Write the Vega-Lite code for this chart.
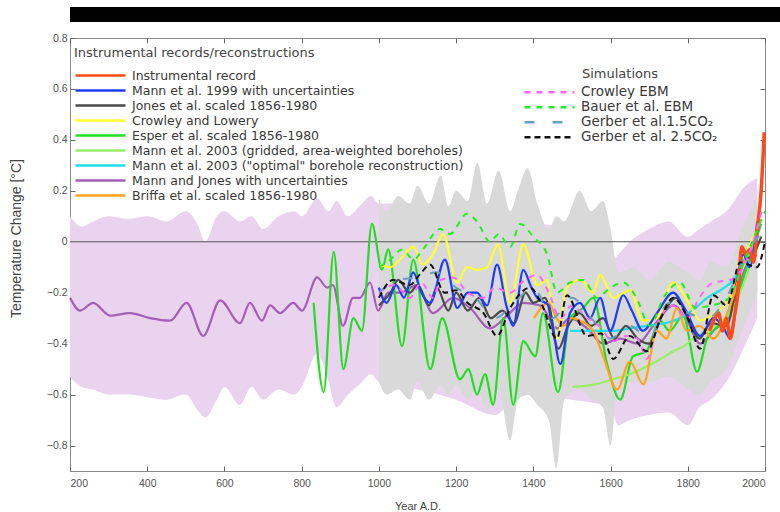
{
  "$schema": "https://vega.github.io/schema/vega-lite/v6.json",
  "autosize": {"type": "pad"},
  "padding": {"left": 8, "top": 7, "right": 0, "bottom": 0},
  "background": "white",
  "columns": 1,
  "align": "none",
  "spacing": 10,
  "config": {
    "font": "Liberation Sans",
    "view": {"stroke": "#8a8a8a", "strokeWidth": 1},
    "axis": {
      "labelFont": "Liberation Sans",
      "labelFontSize": 10.5,
      "labelColor": "#555555",
      "titleFont": "Liberation Sans",
      "titleFontSize": 11,
      "titleFontWeight": "normal",
      "titleColor": "#444444",
      "domain": false,
      "grid": false,
      "tickColor": "#666666",
      "tickSize": -5
    },
    "legend": {
      "labelFont": "DejaVu Sans",
      "labelFontSize": 12.5,
      "labelColor": "#3a3a3a",
      "labelLimit": 0,
      "titleFont": "DejaVu Sans",
      "titleFontSize": 13,
      "titleFontWeight": "normal",
      "titleColor": "#444444",
      "titleLimit": 0,
      "symbolType": "stroke",
      "symbolStrokeWidth": 2.5,
      "symbolSize": 2500,
      "clipHeight": 15,
      "rowPadding": 0,
      "labelOffset": 5
    }
  },
  "datasets": {
    "mannjonesband": [
      {"year": 200, "lo": -0.53, "hi": 0.1},
      {"year": 230, "lo": -0.57, "hi": 0.06},
      {"year": 260, "lo": -0.58, "hi": 0.08},
      {"year": 300, "lo": -0.6, "hi": 0.1},
      {"year": 350, "lo": -0.6, "hi": 0.09},
      {"year": 400, "lo": -0.61, "hi": 0.1},
      {"year": 450, "lo": -0.62, "hi": 0.08},
      {"year": 500, "lo": -0.6, "hi": 0.12},
      {"year": 530, "lo": -0.66, "hi": 0.07},
      {"year": 550, "lo": -0.69, "hi": 0.0},
      {"year": 580, "lo": -0.62, "hi": 0.1},
      {"year": 600, "lo": -0.57, "hi": 0.12},
      {"year": 640, "lo": -0.64, "hi": 0.08},
      {"year": 670, "lo": -0.57, "hi": 0.1},
      {"year": 700, "lo": -0.62, "hi": 0.05},
      {"year": 740, "lo": -0.58, "hi": 0.1},
      {"year": 780, "lo": -0.6, "hi": 0.12},
      {"year": 800, "lo": -0.57, "hi": 0.1},
      {"year": 840, "lo": -0.44, "hi": 0.17},
      {"year": 870, "lo": -0.55, "hi": 0.12},
      {"year": 890, "lo": -0.65, "hi": 0.16},
      {"year": 920, "lo": -0.6, "hi": 0.1},
      {"year": 950, "lo": -0.56, "hi": 0.14},
      {"year": 980, "lo": -0.52, "hi": 0.18},
      {"year": 1000, "lo": -0.55, "hi": 0.15},
      {"year": 1100, "lo": -0.58, "hi": 0.15},
      {"year": 1200, "lo": -0.62, "hi": 0.12},
      {"year": 1300, "lo": -0.68, "hi": 0.1},
      {"year": 1350, "lo": -0.62, "hi": 0.12},
      {"year": 1400, "lo": -0.6, "hi": 0.08},
      {"year": 1500, "lo": -0.62, "hi": 0.05},
      {"year": 1600, "lo": -0.65, "hi": -0.08},
      {"year": 1620, "lo": -0.72, "hi": -0.05},
      {"year": 1650, "lo": -0.7, "hi": 0.0},
      {"year": 1700, "lo": -0.68, "hi": 0.05},
      {"year": 1750, "lo": -0.67, "hi": 0.08},
      {"year": 1800, "lo": -0.72, "hi": 0.02},
      {"year": 1830, "lo": -0.65, "hi": 0.05},
      {"year": 1860, "lo": -0.62, "hi": 0.08},
      {"year": 1900, "lo": -0.55, "hi": 0.12},
      {"year": 1950, "lo": -0.4, "hi": 0.22},
      {"year": 1980, "lo": -0.3, "hi": 0.25}
    ],
    "mann99band": [
      {"year": 1000, "lo": -0.55, "hi": 0.17},
      {"year": 1020, "lo": -0.6, "hi": 0.12},
      {"year": 1050, "lo": -0.58, "hi": 0.18},
      {"year": 1080, "lo": -0.62, "hi": 0.15},
      {"year": 1100, "lo": -0.55, "hi": 0.22},
      {"year": 1130, "lo": -0.62, "hi": 0.15},
      {"year": 1160, "lo": -0.56, "hi": 0.26},
      {"year": 1180, "lo": -0.6, "hi": 0.14},
      {"year": 1200, "lo": -0.56, "hi": 0.2},
      {"year": 1230, "lo": -0.62, "hi": 0.16},
      {"year": 1255, "lo": -0.58, "hi": 0.31},
      {"year": 1280, "lo": -0.66, "hi": 0.15},
      {"year": 1310, "lo": -0.58, "hi": 0.28},
      {"year": 1340, "lo": -0.78, "hi": 0.12},
      {"year": 1360, "lo": -0.62, "hi": 0.2},
      {"year": 1385, "lo": -0.6, "hi": 0.29},
      {"year": 1410, "lo": -0.64, "hi": 0.15},
      {"year": 1440, "lo": -0.7, "hi": 0.05},
      {"year": 1460, "lo": -0.89, "hi": 0.1},
      {"year": 1480, "lo": -0.62, "hi": 0.08},
      {"year": 1520, "lo": -0.58, "hi": 0.2},
      {"year": 1550, "lo": -0.62, "hi": 0.12},
      {"year": 1580, "lo": -0.65, "hi": 0.16},
      {"year": 1600, "lo": -0.8, "hi": 0.05},
      {"year": 1620, "lo": -0.55, "hi": -0.12},
      {"year": 1660, "lo": -0.55, "hi": -0.1},
      {"year": 1700, "lo": -0.55, "hi": -0.15},
      {"year": 1750, "lo": -0.53, "hi": -0.08},
      {"year": 1800, "lo": -0.58, "hi": -0.12},
      {"year": 1830, "lo": -0.6, "hi": -0.15},
      {"year": 1860, "lo": -0.55, "hi": -0.08},
      {"year": 1900, "lo": -0.5, "hi": -0.1},
      {"year": 1940, "lo": -0.35, "hi": 0.05},
      {"year": 1980, "lo": -0.2, "hi": 0.18}
    ],
    "recon": [
      {"series": "Mann and Jones with uncertainties", "year": 200, "temp": -0.22},
      {"series": "Mann and Jones with uncertainties", "year": 226, "temp": -0.27},
      {"series": "Mann and Jones with uncertainties", "year": 260, "temp": -0.24},
      {"series": "Mann and Jones with uncertainties", "year": 304, "temp": -0.29},
      {"series": "Mann and Jones with uncertainties", "year": 355, "temp": -0.28},
      {"series": "Mann and Jones with uncertainties", "year": 407, "temp": -0.3},
      {"series": "Mann and Jones with uncertainties", "year": 459, "temp": -0.31},
      {"series": "Mann and Jones with uncertainties", "year": 502, "temp": -0.24},
      {"series": "Mann and Jones with uncertainties", "year": 545, "temp": -0.37},
      {"series": "Mann and Jones with uncertainties", "year": 589, "temp": -0.23},
      {"series": "Mann and Jones with uncertainties", "year": 640, "temp": -0.32},
      {"series": "Mann and Jones with uncertainties", "year": 666, "temp": -0.24},
      {"series": "Mann and Jones with uncertainties", "year": 697, "temp": -0.31},
      {"series": "Mann and Jones with uncertainties", "year": 718, "temp": -0.25},
      {"series": "Mann and Jones with uncertainties", "year": 744, "temp": -0.28},
      {"series": "Mann and Jones with uncertainties", "year": 778, "temp": -0.24},
      {"series": "Mann and Jones with uncertainties", "year": 801, "temp": -0.27},
      {"series": "Mann and Jones with uncertainties", "year": 840, "temp": -0.14},
      {"series": "Mann and Jones with uncertainties", "year": 866, "temp": -0.18},
      {"series": "Mann and Jones with uncertainties", "year": 881, "temp": -0.17},
      {"series": "Mann and Jones with uncertainties", "year": 907, "temp": -0.33},
      {"series": "Mann and Jones with uncertainties", "year": 933, "temp": -0.22},
      {"series": "Mann and Jones with uncertainties", "year": 951, "temp": -0.22},
      {"series": "Mann and Jones with uncertainties", "year": 977, "temp": -0.16},
      {"series": "Mann and Jones with uncertainties", "year": 998, "temp": -0.27},
      {"series": "Mann and Jones with uncertainties", "year": 1024, "temp": -0.2},
      {"series": "Mann and Jones with uncertainties", "year": 1055, "temp": -0.2},
      {"series": "Mann and Jones with uncertainties", "year": 1099, "temp": -0.17},
      {"series": "Mann and Jones with uncertainties", "year": 1140, "temp": -0.28},
      {"series": "Mann and Jones with uncertainties", "year": 1192, "temp": -0.22},
      {"series": "Mann and Jones with uncertainties", "year": 1236, "temp": -0.26},
      {"series": "Mann and Jones with uncertainties", "year": 1288, "temp": -0.34},
      {"series": "Mann and Jones with uncertainties", "year": 1332, "temp": -0.29},
      {"series": "Mann and Jones with uncertainties", "year": 1374, "temp": -0.24},
      {"series": "Mann and Jones with uncertainties", "year": 1418, "temp": -0.25},
      {"series": "Mann and Jones with uncertainties", "year": 1462, "temp": -0.34},
      {"series": "Mann and Jones with uncertainties", "year": 1495, "temp": -0.3},
      {"series": "Mann and Jones with uncertainties", "year": 1539, "temp": -0.34},
      {"series": "Mann and Jones with uncertainties", "year": 1581, "temp": -0.4},
      {"series": "Mann and Jones with uncertainties", "year": 1625, "temp": -0.38},
      {"series": "Mann and Jones with uncertainties", "year": 1669, "temp": -0.4},
      {"series": "Mann and Jones with uncertainties", "year": 1711, "temp": -0.33},
      {"series": "Mann and Jones with uncertainties", "year": 1763, "temp": -0.25},
      {"series": "Mann and Jones with uncertainties", "year": 1798, "temp": -0.31},
      {"series": "Mann and Jones with uncertainties", "year": 1832, "temp": -0.4},
      {"series": "Mann and Jones with uncertainties", "year": 1866, "temp": -0.35},
      {"series": "Mann and Jones with uncertainties", "year": 1910, "temp": -0.28},
      {"series": "Mann and Jones with uncertainties", "year": 1953, "temp": -0.09},
      {"series": "Mann and Jones with uncertainties", "year": 1979, "temp": -0.05},

      {"series": "Esper et al. scaled 1856-1980", "year": 831, "temp": -0.24},
      {"series": "Esper et al. scaled 1856-1980", "year": 857, "temp": -0.59},
      {"series": "Esper et al. scaled 1856-1980", "year": 883, "temp": -0.04},
      {"series": "Esper et al. scaled 1856-1980", "year": 908, "temp": -0.5},
      {"series": "Esper et al. scaled 1856-1980", "year": 934, "temp": -0.3},
      {"series": "Esper et al. scaled 1856-1980", "year": 956, "temp": -0.35},
      {"series": "Esper et al. scaled 1856-1980", "year": 982, "temp": 0.07},
      {"series": "Esper et al. scaled 1856-1980", "year": 1008, "temp": -0.11},
      {"series": "Esper et al. scaled 1856-1980", "year": 1024, "temp": -0.03},
      {"series": "Esper et al. scaled 1856-1980", "year": 1060, "temp": -0.41},
      {"series": "Esper et al. scaled 1856-1980", "year": 1089, "temp": -0.07},
      {"series": "Esper et al. scaled 1856-1980", "year": 1133, "temp": -0.5},
      {"series": "Esper et al. scaled 1856-1980", "year": 1164, "temp": -0.3},
      {"series": "Esper et al. scaled 1856-1980", "year": 1210, "temp": -0.54},
      {"series": "Esper et al. scaled 1856-1980", "year": 1232, "temp": -0.5},
      {"series": "Esper et al. scaled 1856-1980", "year": 1254, "temp": -0.6},
      {"series": "Esper et al. scaled 1856-1980", "year": 1275, "temp": -0.52},
      {"series": "Esper et al. scaled 1856-1980", "year": 1296, "temp": -0.64},
      {"series": "Esper et al. scaled 1856-1980", "year": 1322, "temp": -0.3},
      {"series": "Esper et al. scaled 1856-1980", "year": 1348, "temp": -0.64},
      {"series": "Esper et al. scaled 1856-1980", "year": 1374, "temp": -0.39},
      {"series": "Esper et al. scaled 1856-1980", "year": 1405, "temp": -0.45},
      {"series": "Esper et al. scaled 1856-1980", "year": 1425, "temp": -0.28},
      {"series": "Esper et al. scaled 1856-1980", "year": 1464, "temp": -0.59},
      {"series": "Esper et al. scaled 1856-1980", "year": 1495, "temp": -0.3},
      {"series": "Esper et al. scaled 1856-1980", "year": 1529, "temp": -0.26},
      {"series": "Esper et al. scaled 1856-1980", "year": 1555, "temp": -0.22},
      {"series": "Esper et al. scaled 1856-1980", "year": 1591, "temp": -0.48},
      {"series": "Esper et al. scaled 1856-1980", "year": 1625, "temp": -0.62},
      {"series": "Esper et al. scaled 1856-1980", "year": 1658, "temp": -0.45},
      {"series": "Esper et al. scaled 1856-1980", "year": 1693, "temp": -0.43},
      {"series": "Esper et al. scaled 1856-1980", "year": 1728, "temp": -0.31},
      {"series": "Esper et al. scaled 1856-1980", "year": 1753, "temp": -0.35},
      {"series": "Esper et al. scaled 1856-1980", "year": 1788, "temp": -0.29},
      {"series": "Esper et al. scaled 1856-1980", "year": 1824, "temp": -0.51},
      {"series": "Esper et al. scaled 1856-1980", "year": 1850, "temp": -0.38},
      {"series": "Esper et al. scaled 1856-1980", "year": 1880, "temp": -0.33},
      {"series": "Esper et al. scaled 1856-1980", "year": 1918, "temp": -0.26},
      {"series": "Esper et al. scaled 1856-1980", "year": 1953, "temp": -0.1},
      {"series": "Esper et al. scaled 1856-1980", "year": 1990, "temp": 0.07},

      {"series": "Mann et al. 2003 (gridded, area-weighted boreholes)", "year": 1501, "temp": -0.57},
      {"series": "Mann et al. 2003 (gridded, area-weighted boreholes)", "year": 1560, "temp": -0.56},
      {"series": "Mann et al. 2003 (gridded, area-weighted boreholes)", "year": 1607, "temp": -0.54},
      {"series": "Mann et al. 2003 (gridded, area-weighted boreholes)", "year": 1650, "temp": -0.52},
      {"series": "Mann et al. 2003 (gridded, area-weighted boreholes)", "year": 1694, "temp": -0.49},
      {"series": "Mann et al. 2003 (gridded, area-weighted boreholes)", "year": 1730, "temp": -0.46},
      {"series": "Mann et al. 2003 (gridded, area-weighted boreholes)", "year": 1762, "temp": -0.43},
      {"series": "Mann et al. 2003 (gridded, area-weighted boreholes)", "year": 1790, "temp": -0.41},
      {"series": "Mann et al. 2003 (gridded, area-weighted boreholes)", "year": 1814, "temp": -0.38},
      {"series": "Mann et al. 2003 (gridded, area-weighted boreholes)", "year": 1850, "temp": -0.35},
      {"series": "Mann et al. 2003 (gridded, area-weighted boreholes)", "year": 1880, "temp": -0.32},
      {"series": "Mann et al. 2003 (gridded, area-weighted boreholes)", "year": 1910, "temp": -0.28},
      {"series": "Mann et al. 2003 (gridded, area-weighted boreholes)", "year": 1960, "temp": -0.1},

      {"series": "Mann et al. 2003 (\"optimal\" borehole reconstruction)", "year": 1495, "temp": -0.35},
      {"series": "Mann et al. 2003 (\"optimal\" borehole reconstruction)", "year": 1550, "temp": -0.35},
      {"series": "Mann et al. 2003 (\"optimal\" borehole reconstruction)", "year": 1607, "temp": -0.35},
      {"series": "Mann et al. 2003 (\"optimal\" borehole reconstruction)", "year": 1650, "temp": -0.34},
      {"series": "Mann et al. 2003 (\"optimal\" borehole reconstruction)", "year": 1694, "temp": -0.33},
      {"series": "Mann et al. 2003 (\"optimal\" borehole reconstruction)", "year": 1740, "temp": -0.32},
      {"series": "Mann et al. 2003 (\"optimal\" borehole reconstruction)", "year": 1780, "temp": -0.3},
      {"series": "Mann et al. 2003 (\"optimal\" borehole reconstruction)", "year": 1820, "temp": -0.26},
      {"series": "Mann et al. 2003 (\"optimal\" borehole reconstruction)", "year": 1850, "temp": -0.22},
      {"series": "Mann et al. 2003 (\"optimal\" borehole reconstruction)", "year": 1885, "temp": -0.19},
      {"series": "Mann et al. 2003 (\"optimal\" borehole reconstruction)", "year": 1918, "temp": -0.15},
      {"series": "Mann et al. 2003 (\"optimal\" borehole reconstruction)", "year": 1953, "temp": -0.06},
      {"series": "Mann et al. 2003 (\"optimal\" borehole reconstruction)", "year": 1980, "temp": 0.02},

      {"series": "Crowley and Lowery", "year": 1003, "temp": -0.09},
      {"series": "Crowley and Lowery", "year": 1030, "temp": -0.1},
      {"series": "Crowley and Lowery", "year": 1060, "temp": -0.06},
      {"series": "Crowley and Lowery", "year": 1089, "temp": -0.02},
      {"series": "Crowley and Lowery", "year": 1114, "temp": -0.09},
      {"series": "Crowley and Lowery", "year": 1140, "temp": -0.05},
      {"series": "Crowley and Lowery", "year": 1166, "temp": 0.03},
      {"series": "Crowley and Lowery", "year": 1203, "temp": -0.16},
      {"series": "Crowley and Lowery", "year": 1228, "temp": -0.1},
      {"series": "Crowley and Lowery", "year": 1255, "temp": -0.11},
      {"series": "Crowley and Lowery", "year": 1280, "temp": -0.1},
      {"series": "Crowley and Lowery", "year": 1308, "temp": -0.01},
      {"series": "Crowley and Lowery", "year": 1340, "temp": -0.24},
      {"series": "Crowley and Lowery", "year": 1374, "temp": -0.01},
      {"series": "Crowley and Lowery", "year": 1410, "temp": -0.17},
      {"series": "Crowley and Lowery", "year": 1435, "temp": -0.15},
      {"series": "Crowley and Lowery", "year": 1461, "temp": -0.38},
      {"series": "Crowley and Lowery", "year": 1487, "temp": -0.18},
      {"series": "Crowley and Lowery", "year": 1521, "temp": -0.15},
      {"series": "Crowley and Lowery", "year": 1555, "temp": -0.2},
      {"series": "Crowley and Lowery", "year": 1573, "temp": -0.13},
      {"series": "Crowley and Lowery", "year": 1607, "temp": -0.22},
      {"series": "Crowley and Lowery", "year": 1650, "temp": -0.19},
      {"series": "Crowley and Lowery", "year": 1684, "temp": -0.31},
      {"series": "Crowley and Lowery", "year": 1720, "temp": -0.3},
      {"series": "Crowley and Lowery", "year": 1762, "temp": -0.16},
      {"series": "Crowley and Lowery", "year": 1810, "temp": -0.26},
      {"series": "Crowley and Lowery", "year": 1832, "temp": -0.31},
      {"series": "Crowley and Lowery", "year": 1870, "temp": -0.28},
      {"series": "Crowley and Lowery", "year": 1910, "temp": -0.22},
      {"series": "Crowley and Lowery", "year": 1950, "temp": -0.05},
      {"series": "Crowley and Lowery", "year": 1980, "temp": 0.05},

      {"series": "Jones et al. scaled 1856-1980", "year": 1000, "temp": -0.25},
      {"series": "Jones et al. scaled 1856-1980", "year": 1030, "temp": -0.2},
      {"series": "Jones et al. scaled 1856-1980", "year": 1050, "temp": -0.15},
      {"series": "Jones et al. scaled 1856-1980", "year": 1080, "temp": -0.2},
      {"series": "Jones et al. scaled 1856-1980", "year": 1100, "temp": -0.17},
      {"series": "Jones et al. scaled 1856-1980", "year": 1130, "temp": -0.25},
      {"series": "Jones et al. scaled 1856-1980", "year": 1150, "temp": -0.18},
      {"series": "Jones et al. scaled 1856-1980", "year": 1180, "temp": -0.27},
      {"series": "Jones et al. scaled 1856-1980", "year": 1200, "temp": -0.2},
      {"series": "Jones et al. scaled 1856-1980", "year": 1230, "temp": -0.27},
      {"series": "Jones et al. scaled 1856-1980", "year": 1260, "temp": -0.22},
      {"series": "Jones et al. scaled 1856-1980", "year": 1290, "temp": -0.3},
      {"series": "Jones et al. scaled 1856-1980", "year": 1320, "temp": -0.27},
      {"series": "Jones et al. scaled 1856-1980", "year": 1350, "temp": -0.32},
      {"series": "Jones et al. scaled 1856-1980", "year": 1380, "temp": -0.2},
      {"series": "Jones et al. scaled 1856-1980", "year": 1400, "temp": -0.24},
      {"series": "Jones et al. scaled 1856-1980", "year": 1430, "temp": -0.22},
      {"series": "Jones et al. scaled 1856-1980", "year": 1465, "temp": -0.42},
      {"series": "Jones et al. scaled 1856-1980", "year": 1490, "temp": -0.33},
      {"series": "Jones et al. scaled 1856-1980", "year": 1520, "temp": -0.28},
      {"series": "Jones et al. scaled 1856-1980", "year": 1550, "temp": -0.33},
      {"series": "Jones et al. scaled 1856-1980", "year": 1580, "temp": -0.3},
      {"series": "Jones et al. scaled 1856-1980", "year": 1610, "temp": -0.38},
      {"series": "Jones et al. scaled 1856-1980", "year": 1640, "temp": -0.33},
      {"series": "Jones et al. scaled 1856-1980", "year": 1670, "temp": -0.38},
      {"series": "Jones et al. scaled 1856-1980", "year": 1700, "temp": -0.4},
      {"series": "Jones et al. scaled 1856-1980", "year": 1730, "temp": -0.3},
      {"series": "Jones et al. scaled 1856-1980", "year": 1770, "temp": -0.22},
      {"series": "Jones et al. scaled 1856-1980", "year": 1800, "temp": -0.3},
      {"series": "Jones et al. scaled 1856-1980", "year": 1830, "temp": -0.38},
      {"series": "Jones et al. scaled 1856-1980", "year": 1860, "temp": -0.32},
      {"series": "Jones et al. scaled 1856-1980", "year": 1900, "temp": -0.33},
      {"series": "Jones et al. scaled 1856-1980", "year": 1940, "temp": -0.08},
      {"series": "Jones et al. scaled 1856-1980", "year": 1970, "temp": -0.05},
      {"series": "Jones et al. scaled 1856-1980", "year": 1990, "temp": 0.02},

      {"series": "Briffa et al. scaled 1856-1980", "year": 1402, "temp": -0.3},
      {"series": "Briffa et al. scaled 1856-1980", "year": 1420, "temp": -0.26},
      {"series": "Briffa et al. scaled 1856-1980", "year": 1440, "temp": -0.24},
      {"series": "Briffa et al. scaled 1856-1980", "year": 1460, "temp": -0.3},
      {"series": "Briffa et al. scaled 1856-1980", "year": 1480, "temp": -0.33},
      {"series": "Briffa et al. scaled 1856-1980", "year": 1500, "temp": -0.3},
      {"series": "Briffa et al. scaled 1856-1980", "year": 1521, "temp": -0.31},
      {"series": "Briffa et al. scaled 1856-1980", "year": 1555, "temp": -0.35},
      {"series": "Briffa et al. scaled 1856-1980", "year": 1581, "temp": -0.45},
      {"series": "Briffa et al. scaled 1856-1980", "year": 1617, "temp": -0.58},
      {"series": "Briffa et al. scaled 1856-1980", "year": 1650, "temp": -0.47},
      {"series": "Briffa et al. scaled 1856-1980", "year": 1685, "temp": -0.56},
      {"series": "Briffa et al. scaled 1856-1980", "year": 1720, "temp": -0.35},
      {"series": "Briffa et al. scaled 1856-1980", "year": 1745, "temp": -0.38},
      {"series": "Briffa et al. scaled 1856-1980", "year": 1772, "temp": -0.26},
      {"series": "Briffa et al. scaled 1856-1980", "year": 1797, "temp": -0.35},
      {"series": "Briffa et al. scaled 1856-1980", "year": 1830, "temp": -0.33},
      {"series": "Briffa et al. scaled 1856-1980", "year": 1866, "temp": -0.38},
      {"series": "Briffa et al. scaled 1856-1980", "year": 1910, "temp": -0.25},
      {"series": "Briffa et al. scaled 1856-1980", "year": 1953, "temp": -0.05},
      {"series": "Briffa et al. scaled 1856-1980", "year": 1980, "temp": 0.0},

      {"series": "Mann et al. 1999 with uncertainties", "year": 1000, "temp": -0.18},
      {"series": "Mann et al. 1999 with uncertainties", "year": 1020, "temp": -0.24},
      {"series": "Mann et al. 1999 with uncertainties", "year": 1045, "temp": -0.17},
      {"series": "Mann et al. 1999 with uncertainties", "year": 1065, "temp": -0.22},
      {"series": "Mann et al. 1999 with uncertainties", "year": 1089, "temp": -0.12},
      {"series": "Mann et al. 1999 with uncertainties", "year": 1110, "temp": -0.2},
      {"series": "Mann et al. 1999 with uncertainties", "year": 1133, "temp": -0.24},
      {"series": "Mann et al. 1999 with uncertainties", "year": 1171, "temp": -0.07},
      {"series": "Mann et al. 1999 with uncertainties", "year": 1203, "temp": -0.26},
      {"series": "Mann et al. 1999 with uncertainties", "year": 1230, "temp": -0.2},
      {"series": "Mann et al. 1999 with uncertainties", "year": 1254, "temp": -0.2},
      {"series": "Mann et al. 1999 with uncertainties", "year": 1280, "temp": -0.25},
      {"series": "Mann et al. 1999 with uncertainties", "year": 1306, "temp": -0.09},
      {"series": "Mann et al. 1999 with uncertainties", "year": 1330, "temp": -0.25},
      {"series": "Mann et al. 1999 with uncertainties", "year": 1348, "temp": -0.33},
      {"series": "Mann et al. 1999 with uncertainties", "year": 1374, "temp": -0.11},
      {"series": "Mann et al. 1999 with uncertainties", "year": 1395, "temp": -0.18},
      {"series": "Mann et al. 1999 with uncertainties", "year": 1410, "temp": -0.22},
      {"series": "Mann et al. 1999 with uncertainties", "year": 1440, "temp": -0.25},
      {"series": "Mann et al. 1999 with uncertainties", "year": 1470, "temp": -0.48},
      {"series": "Mann et al. 1999 with uncertainties", "year": 1495, "temp": -0.28},
      {"series": "Mann et al. 1999 with uncertainties", "year": 1521, "temp": -0.24},
      {"series": "Mann et al. 1999 with uncertainties", "year": 1547, "temp": -0.3},
      {"series": "Mann et al. 1999 with uncertainties", "year": 1573, "temp": -0.22},
      {"series": "Mann et al. 1999 with uncertainties", "year": 1599, "temp": -0.35},
      {"series": "Mann et al. 1999 with uncertainties", "year": 1633, "temp": -0.21},
      {"series": "Mann et al. 1999 with uncertainties", "year": 1655, "temp": -0.27},
      {"series": "Mann et al. 1999 with uncertainties", "year": 1684, "temp": -0.35},
      {"series": "Mann et al. 1999 with uncertainties", "year": 1720, "temp": -0.28},
      {"series": "Mann et al. 1999 with uncertainties", "year": 1762, "temp": -0.2},
      {"series": "Mann et al. 1999 with uncertainties", "year": 1795, "temp": -0.27},
      {"series": "Mann et al. 1999 with uncertainties", "year": 1832, "temp": -0.37},
      {"series": "Mann et al. 1999 with uncertainties", "year": 1866, "temp": -0.3},
      {"series": "Mann et al. 1999 with uncertainties", "year": 1890, "temp": -0.33},
      {"series": "Mann et al. 1999 with uncertainties", "year": 1910, "temp": -0.38},
      {"series": "Mann et al. 1999 with uncertainties", "year": 1944, "temp": -0.05},
      {"series": "Mann et al. 1999 with uncertainties", "year": 1960, "temp": -0.1},
      {"series": "Mann et al. 1999 with uncertainties", "year": 1980, "temp": 0.08},

      {"series": "Instrumental record", "year": 1856, "temp": -0.35},
      {"series": "Instrumental record", "year": 1870, "temp": -0.3},
      {"series": "Instrumental record", "year": 1880, "temp": -0.28},
      {"series": "Instrumental record", "year": 1890, "temp": -0.35},
      {"series": "Instrumental record", "year": 1900, "temp": -0.3},
      {"series": "Instrumental record", "year": 1910, "temp": -0.38},
      {"series": "Instrumental record", "year": 1920, "temp": -0.3},
      {"series": "Instrumental record", "year": 1930, "temp": -0.2},
      {"series": "Instrumental record", "year": 1940, "temp": -0.02},
      {"series": "Instrumental record", "year": 1950, "temp": -0.05},
      {"series": "Instrumental record", "year": 1960, "temp": -0.03},
      {"series": "Instrumental record", "year": 1970, "temp": -0.08},
      {"series": "Instrumental record", "year": 1980, "temp": 0.05},
      {"series": "Instrumental record", "year": 1990, "temp": 0.2},
      {"series": "Instrumental record", "year": 1998, "temp": 0.43}
    ],
    "sims": [
      {"model": "Crowley EBM", "year": 1000, "temp": -0.2},
      {"model": "Crowley EBM", "year": 1040, "temp": -0.17},
      {"model": "Crowley EBM", "year": 1080, "temp": -0.22},
      {"model": "Crowley EBM", "year": 1110, "temp": -0.16},
      {"model": "Crowley EBM", "year": 1140, "temp": -0.22},
      {"model": "Crowley EBM", "year": 1160, "temp": -0.15},
      {"model": "Crowley EBM", "year": 1192, "temp": -0.14},
      {"model": "Crowley EBM", "year": 1230, "temp": -0.2},
      {"model": "Crowley EBM", "year": 1271, "temp": -0.22},
      {"model": "Crowley EBM", "year": 1300, "temp": -0.18},
      {"model": "Crowley EBM", "year": 1340, "temp": -0.2},
      {"model": "Crowley EBM", "year": 1370, "temp": -0.16},
      {"model": "Crowley EBM", "year": 1410, "temp": -0.13},
      {"model": "Crowley EBM", "year": 1440, "temp": -0.2},
      {"model": "Crowley EBM", "year": 1470, "temp": -0.3},
      {"model": "Crowley EBM", "year": 1500, "temp": -0.25},
      {"model": "Crowley EBM", "year": 1540, "temp": -0.3},
      {"model": "Crowley EBM", "year": 1570, "temp": -0.33},
      {"model": "Crowley EBM", "year": 1607, "temp": -0.39},
      {"model": "Crowley EBM", "year": 1640, "temp": -0.37},
      {"model": "Crowley EBM", "year": 1670, "temp": -0.38},
      {"model": "Crowley EBM", "year": 1694, "temp": -0.46},
      {"model": "Crowley EBM", "year": 1720, "temp": -0.33},
      {"model": "Crowley EBM", "year": 1760, "temp": -0.25},
      {"model": "Crowley EBM", "year": 1800, "temp": -0.3},
      {"model": "Crowley EBM", "year": 1830, "temp": -0.22},
      {"model": "Crowley EBM", "year": 1866, "temp": -0.16},
      {"model": "Crowley EBM", "year": 1910, "temp": -0.15},
      {"model": "Crowley EBM", "year": 1953, "temp": -0.07},
      {"model": "Crowley EBM", "year": 1995, "temp": 0.14},

      {"model": "Bauer et al. EBM", "year": 1000, "temp": -0.1},
      {"model": "Bauer et al. EBM", "year": 1030, "temp": -0.07},
      {"model": "Bauer et al. EBM", "year": 1060, "temp": -0.03},
      {"model": "Bauer et al. EBM", "year": 1090, "temp": -0.07},
      {"model": "Bauer et al. EBM", "year": 1114, "temp": -0.03},
      {"model": "Bauer et al. EBM", "year": 1158, "temp": 0.05},
      {"model": "Bauer et al. EBM", "year": 1184, "temp": 0.03},
      {"model": "Bauer et al. EBM", "year": 1228, "temp": 0.11},
      {"model": "Bauer et al. EBM", "year": 1254, "temp": 0.08},
      {"model": "Bauer et al. EBM", "year": 1288, "temp": 0.0},
      {"model": "Bauer et al. EBM", "year": 1310, "temp": 0.03},
      {"model": "Bauer et al. EBM", "year": 1340, "temp": -0.02},
      {"model": "Bauer et al. EBM", "year": 1366, "temp": 0.07},
      {"model": "Bauer et al. EBM", "year": 1400, "temp": 0.02},
      {"model": "Bauer et al. EBM", "year": 1436, "temp": -0.05},
      {"model": "Bauer et al. EBM", "year": 1461, "temp": -0.2},
      {"model": "Bauer et al. EBM", "year": 1495, "temp": -0.16},
      {"model": "Bauer et al. EBM", "year": 1530, "temp": -0.15},
      {"model": "Bauer et al. EBM", "year": 1564, "temp": -0.22},
      {"model": "Bauer et al. EBM", "year": 1600, "temp": -0.18},
      {"model": "Bauer et al. EBM", "year": 1633, "temp": -0.16},
      {"model": "Bauer et al. EBM", "year": 1667, "temp": -0.22},
      {"model": "Bauer et al. EBM", "year": 1702, "temp": -0.33},
      {"model": "Bauer et al. EBM", "year": 1737, "temp": -0.22},
      {"model": "Bauer et al. EBM", "year": 1780, "temp": -0.16},
      {"model": "Bauer et al. EBM", "year": 1820, "temp": -0.26},
      {"model": "Bauer et al. EBM", "year": 1860, "temp": -0.25},
      {"model": "Bauer et al. EBM", "year": 1900, "temp": -0.23},
      {"model": "Bauer et al. EBM", "year": 1953, "temp": -0.05},
      {"model": "Bauer et al. EBM", "year": 2000, "temp": 0.12},

      {"model": "Gerber et al.1.5CO₂", "year": 1000, "temp": -0.2},
      {"model": "Gerber et al.1.5CO₂", "year": 1050, "temp": -0.15},
      {"model": "Gerber et al.1.5CO₂", "year": 1100, "temp": -0.14},
      {"model": "Gerber et al.1.5CO₂", "year": 1150, "temp": -0.12},
      {"model": "Gerber et al.1.5CO₂", "year": 1200, "temp": -0.18},
      {"model": "Gerber et al.1.5CO₂", "year": 1250, "temp": -0.22},
      {"model": "Gerber et al.1.5CO₂", "year": 1300, "temp": -0.3},
      {"model": "Gerber et al.1.5CO₂", "year": 1350, "temp": -0.24},
      {"model": "Gerber et al.1.5CO₂", "year": 1400, "temp": -0.18},
      {"model": "Gerber et al.1.5CO₂", "year": 1450, "temp": -0.3},
      {"model": "Gerber et al.1.5CO₂", "year": 1500, "temp": -0.22},
      {"model": "Gerber et al.1.5CO₂", "year": 1550, "temp": -0.3},
      {"model": "Gerber et al.1.5CO₂", "year": 1600, "temp": -0.38},
      {"model": "Gerber et al.1.5CO₂", "year": 1650, "temp": -0.33},
      {"model": "Gerber et al.1.5CO₂", "year": 1700, "temp": -0.38},
      {"model": "Gerber et al.1.5CO₂", "year": 1750, "temp": -0.24},
      {"model": "Gerber et al.1.5CO₂", "year": 1800, "temp": -0.28},
      {"model": "Gerber et al.1.5CO₂", "year": 1850, "temp": -0.3},
      {"model": "Gerber et al.1.5CO₂", "year": 1900, "temp": -0.22},
      {"model": "Gerber et al.1.5CO₂", "year": 1950, "temp": -0.05},
      {"model": "Gerber et al.1.5CO₂", "year": 2000, "temp": 0.05},

      {"model": "Gerber et al. 2.5CO₂", "year": 1000, "temp": -0.22},
      {"model": "Gerber et al. 2.5CO₂", "year": 1037, "temp": -0.15},
      {"model": "Gerber et al. 2.5CO₂", "year": 1080, "temp": -0.17},
      {"model": "Gerber et al. 2.5CO₂", "year": 1105, "temp": -0.13},
      {"model": "Gerber et al. 2.5CO₂", "year": 1133, "temp": -0.09},
      {"model": "Gerber et al. 2.5CO₂", "year": 1170, "temp": -0.2},
      {"model": "Gerber et al. 2.5CO₂", "year": 1200, "temp": -0.19},
      {"model": "Gerber et al. 2.5CO₂", "year": 1230, "temp": -0.24},
      {"model": "Gerber et al. 2.5CO₂", "year": 1271, "temp": -0.28},
      {"model": "Gerber et al. 2.5CO₂", "year": 1306, "temp": -0.37},
      {"model": "Gerber et al. 2.5CO₂", "year": 1340, "temp": -0.26},
      {"model": "Gerber et al. 2.5CO₂", "year": 1392, "temp": -0.18},
      {"model": "Gerber et al. 2.5CO₂", "year": 1420, "temp": -0.24},
      {"model": "Gerber et al. 2.5CO₂", "year": 1461, "temp": -0.38},
      {"model": "Gerber et al. 2.5CO₂", "year": 1487, "temp": -0.21},
      {"model": "Gerber et al. 2.5CO₂", "year": 1539, "temp": -0.37},
      {"model": "Gerber et al. 2.5CO₂", "year": 1575, "temp": -0.36},
      {"model": "Gerber et al. 2.5CO₂", "year": 1607, "temp": -0.46},
      {"model": "Gerber et al. 2.5CO₂", "year": 1650, "temp": -0.37},
      {"model": "Gerber et al. 2.5CO₂", "year": 1694, "temp": -0.43},
      {"model": "Gerber et al. 2.5CO₂", "year": 1730, "temp": -0.3},
      {"model": "Gerber et al. 2.5CO₂", "year": 1762, "temp": -0.22},
      {"model": "Gerber et al. 2.5CO₂", "year": 1800, "temp": -0.3},
      {"model": "Gerber et al. 2.5CO₂", "year": 1832, "temp": -0.42},
      {"model": "Gerber et al. 2.5CO₂", "year": 1866, "temp": -0.21},
      {"model": "Gerber et al. 2.5CO₂", "year": 1901, "temp": -0.25},
      {"model": "Gerber et al. 2.5CO₂", "year": 1936, "temp": -0.08},
      {"model": "Gerber et al. 2.5CO₂", "year": 1979, "temp": -0.1},
      {"model": "Gerber et al. 2.5CO₂", "year": 2000, "temp": 0.0}
    ],
    "zero": [{"temp": 0}]
  },
  "concat": [
    {
      "width": 710,
      "height": 15,
      "view": {"fill": "#000000", "stroke": null},
      "data": {"values": [{"k": 1}]},
      "mark": {"type": "text", "text": ""},
      "encoding": {}
    },
    {
      "width": 695,
      "height": 433,
      "layer": [
        {
          "data": {"name": "mannjonesband"},
          "mark": {"type": "area", "color": "#ead3ee", "interpolate": "monotone", "opacity": 1},
          "encoding": {
            "x": {"field": "year", "type": "quantitative", "scale": {"domain": [200, 2000], "nice": false},
                  "axis": {"orient": "top", "labels": false, "title": null, "values": [200, 400, 600, 800, 1000, 1200, 1400, 1600, 1800, 2000]}},
            "y": {"field": "lo", "type": "quantitative", "scale": {"domain": [-0.9, 0.8], "nice": false}, "axis": null},
            "y2": {"field": "hi"}
          }
        },
        {
          "data": {"name": "mann99band"},
          "mark": {"type": "area", "color": "#d9d9d9", "interpolate": "monotone", "opacity": 1},
          "encoding": {
            "x": {"field": "year", "type": "quantitative", "axis": null},
            "y": {"field": "lo", "type": "quantitative", "axis": null},
            "y2": {"field": "hi"}
          }
        },
        {
          "data": {"name": "zero"},
          "mark": {"type": "rule", "color": "#555555", "strokeWidth": 1},
          "encoding": {
            "y": {"field": "temp", "type": "quantitative",
                  "axis": {"orient": "right", "labels": false, "title": null, "values": [-0.8, -0.6, -0.4, -0.2, 0, 0.2, 0.4, 0.6, 0.8]}}
          }
        },
        {
          "data": {"name": "recon"},
          "mark": {"type": "line", "interpolate": "monotone"},
          "encoding": {
            "x": {"field": "year", "type": "quantitative", "title": "Year A.D.",
                  "axis": {"values": [200, 400, 600, 800, 1000, 1200, 1400, 1600, 1800, 2000], "format": "d", "labelPadding": 12, "titlePadding": 12}},
            "y": {"field": "temp", "type": "quantitative", "title": "Temperature Change [°C]",
                  "axis": {"values": [-0.8, -0.6, -0.4, -0.2, 0, 0.2, 0.4, 0.6, 0.8], "format": "~g", "labelPadding": 8, "titlePadding": 23, "titleFontSize": 14, "titleY": 200}},
            "color": {
              "field": "series", "type": "nominal",
              "scale": {
                "domain": ["Instrumental record", "Mann et al. 1999 with uncertainties", "Jones et al. scaled 1856-1980", "Crowley and Lowery", "Esper et al. scaled 1856-1980", "Mann et al. 2003 (gridded, area-weighted boreholes)", "Mann et al. 2003 (\"optimal\" borehole reconstruction)", "Mann and Jones with uncertainties", "Briffa et al. scaled 1856-1980"],
                "range": ["#ff4a1a", "#1f3bff", "#4a4a4a", "#ffff33", "#22dd22", "#99ee66", "#22ddee", "#a35fb5", "#ffa31a"]
              },
              "legend": {"title": "Instrumental records/reconstructions", "orient": "none", "legendX": 4, "legendY": 9, "titlePadding": 8}
            },
            "strokeWidth": {"condition": {"test": "datum.series === 'Instrumental record'", "value": 3.5}, "value": 2.2}
          }
        },
        {
          "data": {"name": "sims"},
          "mark": {"type": "line", "interpolate": "monotone", "strokeWidth": 2},
          "encoding": {
            "x": {"field": "year", "type": "quantitative", "axis": null},
            "y": {"field": "temp", "type": "quantitative", "axis": null},
            "color": {
              "field": "model", "type": "nominal",
              "scale": {"domain": ["Crowley EBM", "Bauer et al. EBM", "Gerber et al.1.5CO₂", "Gerber et al. 2.5CO₂"],
                        "range": ["#ff66ff", "#22ee22", "#6a9fc0", "#111111"]},
              "legend": {"title": "Simulations", "orient": "none", "legendX": 453, "legendY": 30, "titleAnchor": "middle", "titlePadding": 4, "clipHeight": 14.3, "labelFontSize": 13.5}
            },
            "strokeDash": {
              "field": "model", "type": "nominal",
              "scale": {"domain": ["Crowley EBM", "Bauer et al. EBM", "Gerber et al.1.5CO₂", "Gerber et al. 2.5CO₂"],
                        "range": [[6, 6], [6, 6], [10, 18], [6, 4]]},
              "legend": {"title": "Simulations", "orient": "none", "legendX": 453, "legendY": 30, "titleAnchor": "middle", "titlePadding": 4, "clipHeight": 14.3, "labelFontSize": 13.5}
            }
          }
        }
      ],
      "resolve": {
        "scale": {"color": "independent", "strokeDash": "independent"},
        "axis": {"x": "independent", "y": "independent"}
      }
    }
  ]
}
